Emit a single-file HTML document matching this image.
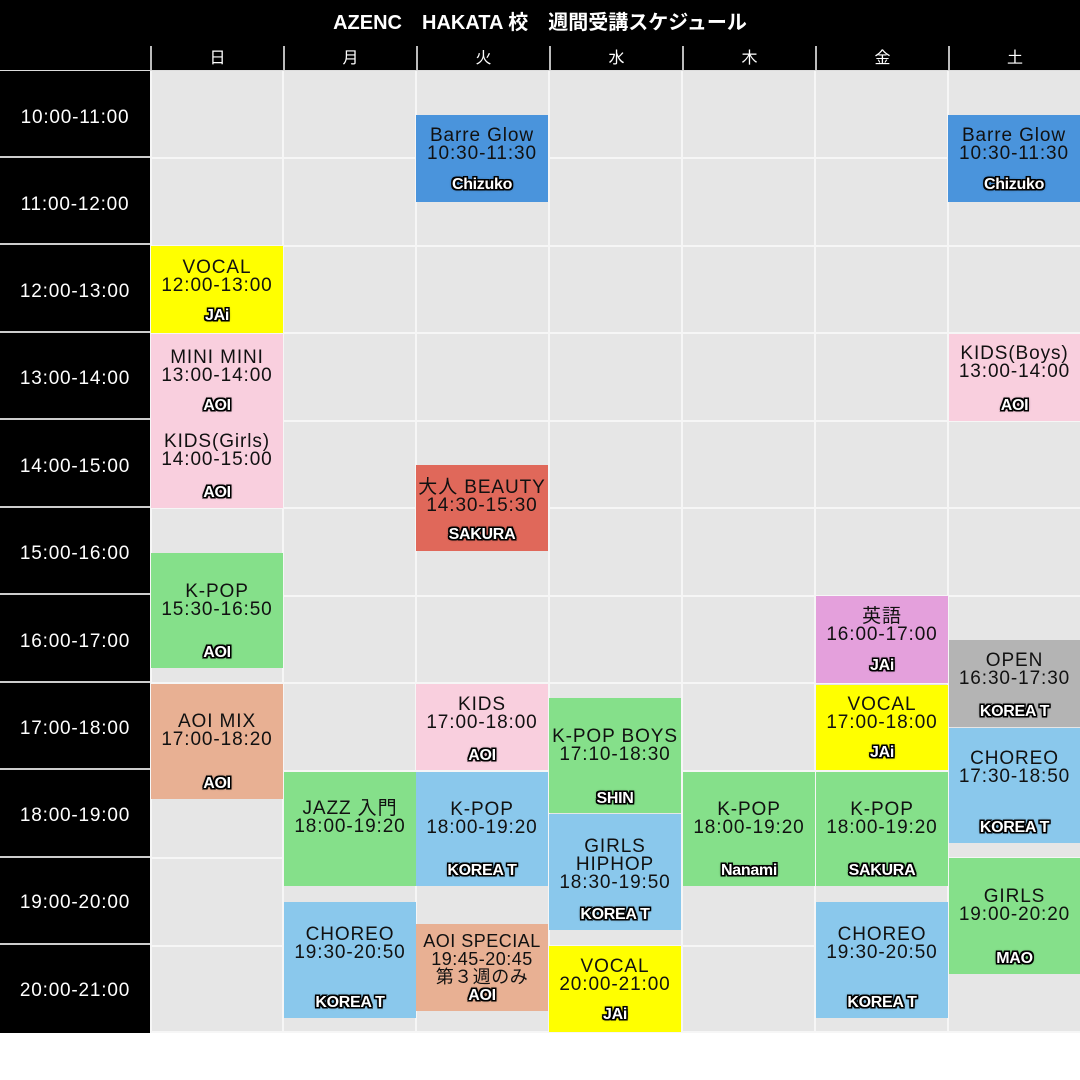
<!DOCTYPE html>
<html><head><meta charset="utf-8"><style>
body{margin:0;width:1080px;height:1080px;background:#fff;position:relative;overflow:hidden;font-family:"Liberation Sans","Noto Sans CJK JP",sans-serif}
.a{position:absolute}
#title{left:0;top:0;width:1080px;height:46px;background:#000;color:#fff;font-weight:bold;font-size:20px;text-align:center;line-height:46px}
#hdr{left:0;top:46px;width:1080px;height:25px;background:#000}
.d{position:absolute;top:46px;height:24px;line-height:25px;color:#fff;font-size:16px;text-align:center;border-left:2px solid #bbb;box-sizing:border-box}
#left{left:0;top:71px;width:150px;height:962px;background:#000}
.t{position:absolute;left:0;width:150px;height:87px;color:#fff;font-size:19px;letter-spacing:0.8px;text-align:center;border-bottom:2px solid #ccc;box-sizing:border-box;padding-top:2px}
#grid{left:150px;top:71px;width:930px;height:962px;background:#e6e6e6}
.v{position:absolute;top:71px;width:2px;height:962px;background:#f6f6f6}
.h{position:absolute;left:150px;width:930px;height:2px;background:#f6f6f6}
.b{position:absolute;width:132px;text-align:center;color:#111;font-size:19px;letter-spacing:0.9px;white-space:nowrap}
.b .l{position:absolute;left:0;width:100%;line-height:18px;margin-top:2px}
.b .n{position:absolute;left:0;width:100%;bottom:7px;line-height:16px;font-weight:bold;font-size:16px;color:#fff;letter-spacing:-0.3px;text-shadow:-1.5px 0 #000,1.5px 0 #000,0 -1.5px #000,0 1.5px #000,-1.5px -1.5px #000,1.5px 1.5px #000,-1.5px 1.5px #000,1.5px -1.5px #000,0 0 3px #000}
.bl{background:#4a94dc}.y{background:#ffff00}.p{background:#f9cfde}.r{background:#e0685a}.g{background:#85e08a}.o{background:#e8b093}.s{background:#8ac8ec}.m{background:#e4a0dc}.gr{background:#b4b4b4}
</style></head><body>
<div class="a" id="title">AZENC　HAKATA 校　週間受講スケジュール</div>
<div class="a" id="hdr"></div>
<div class="d" style="left:150px;width:133px">日</div>
<div class="d" style="left:283px;width:133px">月</div>
<div class="d" style="left:416px;width:133px">火</div>
<div class="d" style="left:549px;width:133px">水</div>
<div class="d" style="left:682px;width:133px">木</div>
<div class="d" style="left:815px;width:133px">金</div>
<div class="d" style="left:948px;width:132px">土</div>
<div class="a" style="left:0;top:70px;width:1080px;height:1px;background:#ddd"></div>
<div class="a" id="left"></div>
<div class="a" id="grid"></div>
<div class="t" style="top:71px;line-height:89px">10:00-11:00</div>
<div class="t" style="top:158px;line-height:90px">11:00-12:00</div>
<div class="t" style="top:246px;line-height:88px">12:00-13:00</div>
<div class="t" style="top:333px;line-height:88px">13:00-14:00</div>
<div class="t" style="top:421px;line-height:88px">14:00-15:00</div>
<div class="t" style="top:508px;line-height:88px">15:00-16:00</div>
<div class="t" style="top:596px;line-height:88px">16:00-17:00</div>
<div class="t" style="top:683px;line-height:88px">17:00-18:00</div>
<div class="t" style="top:771px;line-height:86px">18:00-19:00</div>
<div class="t" style="top:858px;line-height:86px">19:00-20:00</div>
<div class="t" style="top:946px;line-height:86px;border:none">20:00-21:00</div>
<div class="v" style="left:150px"></div><div class="v" style="left:282px"></div><div class="v" style="left:415px"></div><div class="v" style="left:548px"></div><div class="v" style="left:681px"></div><div class="v" style="left:814px"></div><div class="v" style="left:947px"></div>
<div class="h" style="top:157px"></div><div class="h" style="top:245px"></div><div class="h" style="top:332px"></div><div class="h" style="top:420px"></div><div class="h" style="top:507px"></div><div class="h" style="top:595px"></div><div class="h" style="top:682px"></div><div class="h" style="top:770px"></div><div class="h" style="top:857px"></div><div class="h" style="top:945px"></div><div class="h" style="top:1031px"></div>

<div class="b bl" style="left:416px;top:115px;height:87px"><div class="l" style="top:10px">Barre Glow<br>10:30-11:30</div><div class="n" style="bottom:9px">Chizuko</div></div>
<div class="b bl" style="left:948px;top:115px;height:87px"><div class="l" style="top:10px">Barre Glow<br>10:30-11:30</div><div class="n" style="bottom:9px">Chizuko</div></div>
<div class="b y" style="left:151px;top:246px;height:87px"><div class="l" style="top:11px">VOCAL<br>12:00-13:00</div><div class="n" style="bottom:9px">JAi</div></div>
<div class="b p" style="left:151px;top:334px;height:87px"><div class="l" style="top:13px">MINI MINI<br>13:00-14:00</div><div class="n">AOI</div></div>
<div class="b p" style="left:151px;top:421px;height:87px"><div class="l" style="top:10px">KIDS(Girls)<br>14:00-15:00</div><div class="n">AOI</div></div>
<div class="b r" style="left:416px;top:465px;height:86px"><div class="l" style="top:12px">大人 BEAUTY<br>14:30-15:30</div><div class="n" style="bottom:8px">SAKURA</div></div>
<div class="b g" style="left:151px;top:553px;height:115px"><div class="l" style="top:28px">K-POP<br>15:30-16:50</div><div class="n">AOI</div></div>
<div class="b o" style="left:151px;top:684px;height:115px"><div class="l" style="top:27px">AOI MIX<br>17:00-18:20</div><div class="n">AOI</div></div>
<div class="b g" style="left:284px;top:772px;height:114px"><div class="l" style="top:26px">JAZZ 入門<br>18:00-19:20</div></div>
<div class="b s" style="left:284px;top:902px;height:116px"><div class="l" style="top:22px">CHOREO<br>19:30-20:50</div><div class="n">KOREA T</div></div>
<div class="b p" style="left:416px;top:684px;height:86px"><div class="l" style="top:10px">KIDS<br>17:00-18:00</div><div class="n" style="bottom:6px">AOI</div></div>
<div class="b s" style="left:416px;top:772px;height:114px"><div class="l" style="top:27px">K-POP<br>18:00-19:20</div><div class="n">KOREA T</div></div>
<div class="b o" style="left:416px;top:924px;height:87px"><div class="l" style="top:6px;font-size:18px;letter-spacing:0.5px">AOI SPECIAL<br>19:45-20:45<br>第３週のみ</div><div class="n">AOI</div></div>
<div class="b g" style="left:549px;top:698px;height:115px"><div class="l" style="top:28px">K-POP BOYS<br>17:10-18:30</div><div class="n" style="bottom:6px">SHIN</div></div>
<div class="b s" style="left:549px;top:814px;height:116px"><div class="l" style="top:22px">GIRLS<br>HIPHOP<br>18:30-19:50</div><div class="n">KOREA T</div></div>
<div class="b y" style="left:549px;top:946px;height:86px"><div class="l" style="top:10px">VOCAL<br>20:00-21:00</div><div class="n" style="bottom:9px">JAi</div></div>
<div class="b g" style="left:683px;top:772px;height:114px"><div class="l" style="top:27px">K-POP<br>18:00-19:20</div><div class="n">Nanami</div></div>
<div class="b m" style="left:816px;top:596px;height:87px"><div class="l" style="top:10px">英語<br>16:00-17:00</div><div class="n" style="bottom:9px">JAi</div></div>
<div class="b y" style="left:816px;top:685px;height:85px"><div class="l" style="top:9px">VOCAL<br>17:00-18:00</div><div class="n" style="bottom:9px">JAi</div></div>
<div class="b g" style="left:816px;top:772px;height:114px"><div class="l" style="top:27px">K-POP<br>18:00-19:20</div><div class="n">SAKURA</div></div>
<div class="b s" style="left:816px;top:902px;height:116px"><div class="l" style="top:22px">CHOREO<br>19:30-20:50</div><div class="n">KOREA T</div></div>
<div class="b p" style="left:949px;top:334px;height:87px;width:131px"><div class="l" style="top:9px">KIDS(Boys)<br>13:00-14:00</div><div class="n">AOI</div></div>
<div class="b gr" style="left:949px;top:640px;height:87px;width:131px"><div class="l" style="top:10px">OPEN<br>16:30-17:30</div><div class="n">KOREA T</div></div>
<div class="b s" style="left:949px;top:728px;height:115px;width:131px"><div class="l" style="top:20px">CHOREO<br>17:30-18:50</div><div class="n">KOREA T</div></div>
<div class="b g" style="left:949px;top:858px;height:116px;width:131px"><div class="l" style="top:28px">GIRLS<br>19:00-20:20</div><div class="n">MAO</div></div>
</body></html>
